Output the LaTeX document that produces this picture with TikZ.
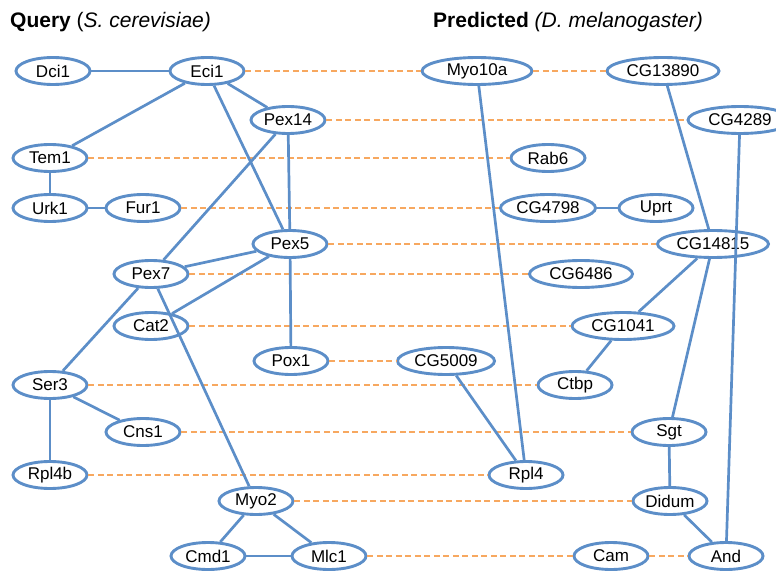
\documentclass[tikz,border=0pt]{standalone}
\usepackage{fontspec}
\setmainfont{Liberation Sans}
\usetikzlibrary{shapes.geometric}
\definecolor{netblue}{RGB}{92,142,200}
\definecolor{homorange}{RGB}{247,168,96}

\begin{document}
\begin{tikzpicture}[
    x=1pt, y=-1pt,
    gene/.style={ellipse, draw=netblue, line width=2.9pt, fill=white, minimum width=74pt, minimum height=27pt, inner sep=0pt, font=\fontsize{17}{20}\selectfont},
    wide/.style={gene, minimum width=#1},
    title/.style={anchor=base west, inner sep=0pt, font=\fontsize{21}{24}\selectfont},
    link/.style={draw=netblue, line width=2.7pt},
    ortho/.style={draw=homorange, line width=1.3pt, dash pattern=on 6pt off 3.5pt}
]
    \useasboundingbox (0,0) rectangle (776,572);

    % headings
    \node[title] (qhead) at (10,28) {\textbf{Query} (\textit{S. cerevisiae)}};
    \node[title] (phead) at (433,28) {\textbf{Predicted} \textit{(D. melanogaster)}};

    % query network
    \node[gene] (Dci1) at (53,71) {Dci1};
    \node[gene] (Eci1) at (207,71) {Eci1};
    \node[gene] (Pex14) at (288,120) {Pex14};
    \node[gene] (Tem1) at (50,158) {Tem1};
    \node[gene] (Urk1) at (50,208) {Urk1};
    \node[gene] (Fur1) at (143,208) {Fur1};
    \node[gene] (Pex5) at (290,244) {Pex5};
    \node[gene] (Pex7) at (151,274) {Pex7};
    \node[gene] (Cat2) at (151,326) {Cat2};
    \node[gene] (Pox1) at (291,361) {Pox1};
    \node[gene] (Ser3) at (50,385) {Ser3};
    \node[gene] (Cns1) at (143,432) {Cns1};
    \node[gene] (Rpl4b) at (50,475) {Rpl4b};
    \node[gene] (Myo2) at (256,501) {Myo2};
    \node[gene] (Cmd1) at (208,556) {Cmd1};
    \node[gene] (Mlc1) at (329,556) {Mlc1};

    % predicted network
    \node[wide=110pt] (Myo10a) at (477,71) {Myo10a};
    \node[wide=112pt] (CG13890) at (663,71) {CG13890};
    \node[wide=104pt] (CG4289) at (740,120) {CG4289};
    \node[gene] (Rab6) at (548,158) {Rab6};
    \node[wide=95pt] (CG4798) at (548,208) {CG4798};
    \node[gene] (Uprt) at (656,208) {Uprt};
    \node[wide=111pt] (CG14815) at (713,244) {CG14815};
    \node[wide=103pt] (CG6486) at (581,274) {CG6486};
    \node[wide=102pt] (CG1041) at (623,326) {CG1041};
    \node[wide=97pt] (CG5009) at (446,361) {CG5009};
    \node[gene] (Ctbp) at (575,385) {Ctbp};
    \node[gene] (Sgt) at (669,432) {Sgt};
    \node[gene] (Rpl4) at (526,475) {Rpl4};
    \node[gene] (Didum) at (670,501) {Didum};
    \node[gene] (Cam) at (611,556) {Cam};
    \node[gene] (And) at (726,556) {And};

    % predicted orthologs
    \draw[ortho] (Eci1) -- (Myo10a);
    \draw[ortho] (Myo10a) -- (CG13890);
    \draw[ortho] (Pex14) -- (CG4289);
    \draw[ortho] (Tem1) -- (Rab6);
    \draw[ortho] (Fur1) -- (CG4798);
    \draw[ortho] (Pex5) -- (CG14815);
    \draw[ortho] (Pex7) -- (CG6486);
    \draw[ortho] (Cat2) -- (CG1041);
    \draw[ortho] (Pox1) -- (CG5009);
    \draw[ortho] (Ser3) -- (Ctbp);
    \draw[ortho] (Cns1) -- (Sgt);
    \draw[ortho] (Rpl4b) -- (Rpl4);
    \draw[ortho] (Myo2) -- (Didum);
    \draw[ortho] (Mlc1) -- (Cam);
    \draw[ortho] (Cam) -- (And);

    % interactions
    \draw[link] (Dci1) -- (Eci1);
    \draw[link] (Eci1) -- (Tem1);
    \draw[link] (Eci1) -- (Pex14);
    \draw[link] (Eci1) -- (Pex5);
    \draw[link] (Pex14) -- (Pex5);
    \draw[link] (Pex14) -- (Pex7);
    \draw[link] (Tem1) -- (Urk1);
    \draw[link] (Urk1) -- (Fur1);
    \draw[link] (Pex5) -- (Pex7);
    \draw[link] (Pex5) -- (Cat2);
    \draw[link] (Pex5) -- (Pox1);
    \draw[link] (Pex7) -- (Ser3);
    \draw[link] (Pex7) -- (Myo2);
    \draw[link] (Ser3) -- (Cns1);
    \draw[link] (Ser3) -- (Rpl4b);
    \draw[link] (Myo2) -- (Cmd1);
    \draw[link] (Myo2) -- (Mlc1);
    \draw[link] (Cmd1) -- (Mlc1);

    \draw[link] (Myo10a) -- (Rpl4);
    \draw[link] (CG13890) -- (CG14815);
    \draw[link] (CG4289) -- (And);
    \draw[link] (CG4798) -- (Uprt);
    \draw[link] (CG14815) -- (CG1041);
    \draw[link] (CG14815) -- (Sgt);
    \draw[link] (CG1041) -- (Ctbp);
    \draw[link] (CG5009) -- (Rpl4);
    \draw[link] (Sgt) -- (Didum);
    \draw[link] (Didum) -- (And);
\end{tikzpicture}
\end{document}
